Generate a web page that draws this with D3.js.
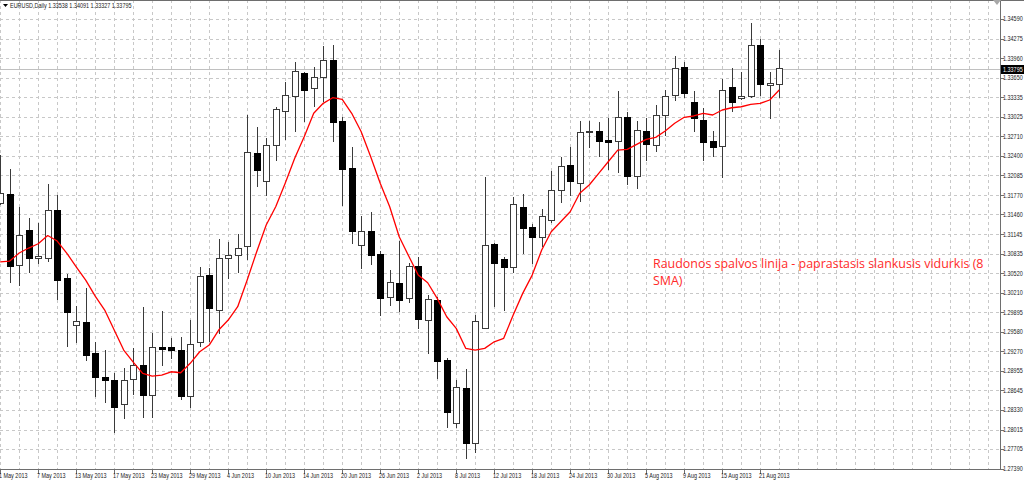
<!DOCTYPE html>
<html>
<head>
<meta charset="utf-8">
<script src="https://cdn.jsdelivr.net/npm/d3@7"></script>
<style>
  html, body { margin: 0; padding: 0; background: #fff; overflow: hidden; }
  svg { display: block; }
</style>
</head>
<body>
<svg id="chart" width="1024" height="481"></svg>
<script>
(function() {

  'use strict';

  var symbol = 'EURUSD,Daily';

  var dates = [
    '2013-05-01', '2013-05-02', '2013-05-03', '2013-05-06', '2013-05-07', '2013-05-08', '2013-05-09', '2013-05-10',
    '2013-05-13', '2013-05-14', '2013-05-15', '2013-05-16', '2013-05-17', '2013-05-20', '2013-05-21', '2013-05-22',
    '2013-05-23', '2013-05-24', '2013-05-27', '2013-05-28', '2013-05-29', '2013-05-30', '2013-05-31',
    '2013-06-03', '2013-06-04', '2013-06-05', '2013-06-06', '2013-06-07', '2013-06-10', '2013-06-11', '2013-06-12',
    '2013-06-13', '2013-06-14', '2013-06-17', '2013-06-18', '2013-06-19', '2013-06-20', '2013-06-21', '2013-06-24',
    '2013-06-25', '2013-06-26', '2013-06-27', '2013-06-28',
    '2013-07-01', '2013-07-02', '2013-07-03', '2013-07-04', '2013-07-05', '2013-07-08', '2013-07-09', '2013-07-10',
    '2013-07-11', '2013-07-12', '2013-07-15', '2013-07-16', '2013-07-17', '2013-07-18', '2013-07-19', '2013-07-22',
    '2013-07-23', '2013-07-24', '2013-07-25', '2013-07-26', '2013-07-29', '2013-07-30', '2013-07-31',
    '2013-08-01', '2013-08-02', '2013-08-05', '2013-08-06', '2013-08-07', '2013-08-08', '2013-08-09', '2013-08-12',
    '2013-08-13', '2013-08-14', '2013-08-15', '2013-08-16', '2013-08-19', '2013-08-20', '2013-08-21', '2013-08-22',
    '2013-08-23'
  ];

  var open = [
    1.31643, 1.31783, 1.30646, 1.31206, 1.30758, 1.30758, 1.31531, 1.30431, 1.29685, 1.29727,
    1.29237, 1.28857, 1.28798, 1.28420, 1.28820, 1.29049, 1.28558, 1.29326, 1.29326, 1.29278,
    1.28553, 1.29406, 1.30486, 1.29919, 1.30763, 1.30806, 1.30944, 1.32439, 1.31996, 1.32561,
    1.33117, 1.33357, 1.33725, 1.33480, 1.33656, 1.33922, 1.32945, 1.32204, 1.30966, 1.31195,
    1.30822, 1.30127, 1.30362, 1.30117, 1.30623, 1.29770, 1.30090, 1.29129, 1.28116, 1.28670,
    1.27795, 1.29631, 1.30982, 1.30747, 1.30619, 1.31575, 1.31251, 1.31088, 1.31360, 1.31852,
    1.32241, 1.31959, 1.32769, 1.32792, 1.32641, 1.32631, 1.33009, 1.32065, 1.32785, 1.32572,
    1.33041, 1.33368, 1.33810, 1.33250, 1.32972, 1.32636, 1.32545, 1.33490, 1.33320, 1.33357,
    1.34173, 1.33533, 1.33538
  ];

  var high = [
    1.32412, 1.32183, 1.31584, 1.31408, 1.31318, 1.31943, 1.31772, 1.30502, 1.29994, 1.30287,
    1.29418, 1.29289, 1.28916, 1.29006, 1.29326, 1.29983, 1.29557, 1.29919, 1.29477, 1.29493,
    1.29770, 1.30614, 1.30598, 1.31062, 1.31014, 1.31147, 1.33053, 1.32856, 1.32679, 1.33176,
    1.33586, 1.33896, 1.33746, 1.33816, 1.34162, 1.34173, 1.33016, 1.32535, 1.31435, 1.31504,
    1.30880, 1.30571, 1.31035, 1.30678, 1.30784, 1.30170, 1.30143, 1.29157, 1.28809, 1.28980,
    1.29845, 1.32055, 1.31008, 1.30784, 1.31744, 1.31783, 1.31302, 1.31543, 1.32161, 1.32385,
    1.32545, 1.32956, 1.32961, 1.32945, 1.33000, 1.33442, 1.33105, 1.32956, 1.33000, 1.33213,
    1.33453, 1.33997, 1.33906, 1.33437, 1.33160, 1.32801, 1.33629, 1.33800, 1.33736, 1.34531,
    1.34270, 1.33736, 1.34091
  ];

  var low = [
    1.31611, 1.30358, 1.30319, 1.30527, 1.30667, 1.30703, 1.30090, 1.29342, 1.29397, 1.29118,
    1.28542, 1.28446, 1.27956, 1.28180, 1.28569, 1.28201, 1.28201, 1.29033, 1.29141, 1.28489,
    1.28356, 1.29342, 1.29422, 1.29546, 1.30422, 1.30527, 1.30731, 1.31904, 1.31760, 1.32321,
    1.32652, 1.32785, 1.32945, 1.33185, 1.33266, 1.32625, 1.31600, 1.30982, 1.30591, 1.30646,
    1.29839, 1.29994, 1.29903, 1.30047, 1.29621, 1.29221, 1.28825, 1.28045, 1.28036, 1.27539,
    1.27635, 1.29621, 1.29983, 1.29919, 1.30518, 1.30827, 1.30667, 1.30944, 1.31318, 1.31648,
    1.31756, 1.31664, 1.32529, 1.32385, 1.32172, 1.32129, 1.31932, 1.31863, 1.32316, 1.32465,
    1.32721, 1.33277, 1.33330, 1.32776, 1.32316, 1.32385, 1.32039, 1.33105, 1.33293, 1.33330,
    1.33357, 1.32984, 1.33327
  ];

  var close = [
    1.31804, 1.30635, 1.31126, 1.30763, 1.30784, 1.31527, 1.30399, 1.29887, 1.29749, 1.29205,
    1.28857, 1.28804, 1.28366, 1.28809, 1.29045, 1.28569, 1.29326, 1.29301, 1.29278, 1.28542,
    1.29386, 1.30463, 1.29951, 1.30758, 1.30806, 1.30918, 1.32449, 1.32161, 1.32561, 1.33144,
    1.33368, 1.33752, 1.33442, 1.33656, 1.33928, 1.32940, 1.32188, 1.31195, 1.31195, 1.30806,
    1.30111, 1.30374, 1.30079, 1.30635, 1.29781, 1.30101, 1.29113, 1.28292, 1.28692, 1.27795,
    1.29749, 1.30966, 1.30671, 1.30619, 1.31616, 1.31243, 1.31088, 1.31435, 1.31840, 1.32225,
    1.31996, 1.32776, 1.32785, 1.32625, 1.32620, 1.33016, 1.32076, 1.32812, 1.32583, 1.33048,
    1.33352, 1.33800, 1.33400, 1.32989, 1.32620, 1.32535, 1.33448, 1.33256, 1.33357, 1.34169,
    1.33549, 1.33565, 1.33795
  ];

  // 8 period simple moving average, as drawn on the chart
  var sma8 = [
    1.30703, 1.30715, 1.30843, 1.30923, 1.30992, 1.31123, 1.31035, 1.30843, 1.30623, 1.30410,
    1.30154, 1.29930, 1.29610, 1.29289, 1.29097, 1.28916, 1.28873, 1.28889, 1.28942, 1.28926,
    1.29077, 1.29262, 1.29370, 1.29610, 1.29770, 1.29983, 1.30410, 1.30864, 1.31291, 1.31584,
    1.31959, 1.32359, 1.32705, 1.33080, 1.33240, 1.33330, 1.33304, 1.33080, 1.32785, 1.32385,
    1.31959, 1.31584, 1.31104, 1.30795, 1.30490, 1.30367, 1.30117, 1.29823, 1.29637, 1.29317,
    1.29289, 1.29317, 1.29422, 1.29477, 1.29850, 1.30197, 1.30490, 1.30891, 1.31184, 1.31344,
    1.31504, 1.31799, 1.31932, 1.32119, 1.32305, 1.32492, 1.32503, 1.32583, 1.32663, 1.32695,
    1.32796, 1.32920, 1.33016, 1.33037, 1.33080, 1.33053, 1.33133, 1.33169, 1.33185, 1.33224,
    1.33240, 1.33293, 1.33453
  ];

  var priceTicks = [
    1.27390, 1.27705, 1.28015, 1.28330, 1.28645, 1.28955, 1.29270, 1.29580, 1.29895, 1.30210,
    1.30520, 1.30835, 1.31145, 1.31460, 1.31770, 1.32085, 1.32400, 1.32710, 1.33025, 1.33335,
    1.33650, 1.33960, 1.34275, 1.34590
  ];

  var note = [
    'Raudonos spalvos linija - paprastasis slankusis vidurkis (8',
    'SMA)'
  ];

  var PLOT_RIGHT = 1000;
  var PLOT_BOTTOM = 469.5;
  var LABEL_EVERY = 4;
  var GRID_EVERY = 2;
  var FONT = '"Liberation Sans", Arial, sans-serif';
  var FONT_SQUEEZE = 0.78;
  var NOTE_X = 653;
  var NOTE_WIDTH = 331;

  var svg = d3.select('#chart');
  var last = close.length - 1;

  var x = d3.scaleLinear()
    .domain([0, 1])
    .range([0.2, 9.7]);

  var y = d3.scaleLinear()
    .domain([1.27390, 1.34590])
    .range([468.7, 19]);

  var fmtDate = d3.utcFormat('%-d %b %Y');
  var parseDate = d3.utcParse('%Y-%m-%d');

  var smallText = function(selection) {
    selection
      .attr('font-family', FONT)
      .attr('font-size', 7)
      .attr('fill', '#1a1a1a');
  };

  // grid
  var grid = svg.append('g')
    .attr('class', 'grid')
    .attr('stroke', '#c8c8c8')
    .attr('stroke-width', 1)
    .attr('stroke-dasharray', '3,3')
    .attr('shape-rendering', 'crispEdges');

  grid.selectAll('line.h')
    .data(priceTicks)
    .enter()
    .append('line')
    .attr('class', 'h')
    .attr('x1', 0)
    .attr('x2', PLOT_RIGHT)
    .attr('y1', function(d) { return Math.round(y(d)) + 0.5; })
    .attr('y2', function(d) { return Math.round(y(d)) + 0.5; });

  var gridIdx = d3.range(0, 106, GRID_EVERY).filter(function(i) {
    return x(i) < PLOT_RIGHT - 2;
  });

  grid.selectAll('line.v')
    .data(gridIdx)
    .enter()
    .append('line')
    .attr('class', 'v')
    .attr('y1', 0)
    .attr('y2', PLOT_BOTTOM)
    .attr('x1', function(i) { return Math.round(x(i)) + 0.5; })
    .attr('x2', function(i) { return Math.round(x(i)) + 0.5; });

  // current price line
  svg.append('line')
    .attr('x1', 0)
    .attr('x2', PLOT_RIGHT)
    .attr('y1', Math.round(y(close[last])) + 0.5)
    .attr('y2', Math.round(y(close[last])) + 0.5)
    .attr('stroke', '#c0c0c0')
    .attr('shape-rendering', 'crispEdges');

  // candles
  var bars = d3.range(close.length);

  var candles = svg.append('g')
    .attr('class', 'candles')
    .attr('shape-rendering', 'crispEdges');

  var candle = candles.selectAll('g.candle')
    .data(bars)
    .enter()
    .append('g')
    .attr('class', 'candle');

  candle.append('line')
    .attr('x1', function(i) { return Math.round(x(i)) + 0.5; })
    .attr('x2', function(i) { return Math.round(x(i)) + 0.5; })
    .attr('y1', function(i) { return y(high[i]); })
    .attr('y2', function(i) { return y(low[i]); })
    .attr('stroke', '#3a3a3a');

  candle.append('rect')
    .attr('x', function(i) { return Math.round(x(i)) - 2.5; })
    .attr('width', 6)
    .attr('y', function(i) { return y(Math.max(open[i], close[i])); })
    .attr('height', function(i) {
      return Math.max(1, Math.abs(y(open[i]) - y(close[i])));
    })
    .attr('fill', function(i) { return close[i] >= open[i] ? '#fff' : '#000'; })
    .attr('stroke', function(i) { return close[i] >= open[i] ? '#3a3a3a' : '#000'; })
    .attr('stroke-width', 1);

  // moving average
  var line = d3.line()
    .x(function(d, i) { return x(i); })
    .y(function(d) { return y(d); });

  svg.append('path')
    .datum(sma8)
    .attr('d', line)
    .attr('fill', 'none')
    .attr('stroke', '#ff0000')
    .attr('stroke-width', 1.3)
    .attr('stroke-linejoin', 'round');

  // frame and axes
  var frame = svg.append('g')
    .attr('stroke', '#6e6e6e')
    .attr('shape-rendering', 'crispEdges');

  frame.append('line')
    .attr('x1', 0).attr('x2', 1024)
    .attr('y1', 0.5).attr('y2', 0.5);

  frame.append('line')
    .attr('x1', PLOT_RIGHT + 0.5).attr('x2', PLOT_RIGHT + 0.5)
    .attr('y1', 0).attr('y2', PLOT_BOTTOM);

  frame.append('line')
    .attr('x1', 0).attr('x2', PLOT_RIGHT + 1)
    .attr('y1', PLOT_BOTTOM).attr('y2', PLOT_BOTTOM);

  // price axis
  var yAxis = svg.append('g').attr('class', 'y-axis');

  yAxis.selectAll('line')
    .data(priceTicks)
    .enter()
    .append('line')
    .attr('x1', PLOT_RIGHT)
    .attr('x2', PLOT_RIGHT + 4)
    .attr('y1', function(d) { return Math.round(y(d)) + 0.5; })
    .attr('y2', function(d) { return Math.round(y(d)) + 0.5; })
    .attr('stroke', '#6e6e6e')
    .attr('shape-rendering', 'crispEdges');

  yAxis.selectAll('text')
    .data(priceTicks)
    .enter()
    .append('text')
    .call(smallText)
    .attr('dy', '0.35em')
    .attr('transform', function(d) {
      return 'translate(' + (PLOT_RIGHT + 3) + ',' + y(d) + ') scale(' + FONT_SQUEEZE + ',1)';
    })
    .text(function(d) { return d.toFixed(5); });

  // current price tag
  var tagY = y(close[last]);
  svg.append('rect')
    .attr('x', PLOT_RIGHT + 1)
    .attr('y', Math.round(tagY) - 4)
    .attr('width', 23)
    .attr('height', 9)
    .attr('fill', '#000');

  svg.append('text')
    .call(smallText)
    .attr('fill', '#fff')
    .attr('dy', '0.35em')
    .attr('transform', 'translate(' + (PLOT_RIGHT + 3) + ',' + (Math.round(tagY) + 0.5) + ') scale(' + FONT_SQUEEZE + ',1)')
    .text(close[last].toFixed(5));

  // time axis
  var labelIdx = bars.filter(function(i) { return i % LABEL_EVERY === 0; });
  var xAxis = svg.append('g').attr('class', 'x-axis');

  xAxis.selectAll('line')
    .data(labelIdx)
    .enter()
    .append('line')
    .attr('x1', function(i) { return Math.round(x(i)) + 0.5; })
    .attr('x2', function(i) { return Math.round(x(i)) + 0.5; })
    .attr('y1', PLOT_BOTTOM)
    .attr('y2', PLOT_BOTTOM + 4)
    .attr('stroke', '#6e6e6e')
    .attr('shape-rendering', 'crispEdges');

  xAxis.selectAll('text')
    .data(labelIdx)
    .enter()
    .append('text')
    .call(smallText)
    .attr('transform', function(i) {
      return 'translate(' + (Math.round(x(i)) - 1) + ',478) scale(' + FONT_SQUEEZE + ',1)';
    })
    .text(function(i) { return fmtDate(parseDate(dates[i])); });

  // header
  svg.append('path')
    .attr('d', 'M3,4 L8,4 L5.5,7 Z')
    .attr('fill', '#000');

  svg.append('text')
    .call(smallText)
    .attr('transform', 'translate(10,8) scale(' + FONT_SQUEEZE + ',1)')
    .text(symbol + '  ' + [open[last], high[last], low[last], close[last]].map(function(v) {
      return v.toFixed(5);
    }).join(' '));

  // chart shift marker
  svg.append('path')
    .attr('d', 'M993,0 L1001,0 L997,5 Z')
    .attr('fill', '#a8a8a8');

  // annotation, squeezed horizontally to the width seen on the chart
  var noteText = svg.append('g')
    .attr('class', 'note')
    .selectAll('text')
    .data(note)
    .enter()
    .append('text')
    .attr('x', 0)
    .attr('y', 0)
    .attr('font-family', '"Open Sans", sans-serif')
    .attr('font-size', 13.5)
    .attr('fill', '#ff2a2a')
    .text(function(d) { return d; });

  var natural = noteText.nodes()[0].getComputedTextLength();
  var squeeze = NOTE_WIDTH / natural;
  noteText.attr('transform', function(d, i) {
    return 'translate(' + NOTE_X + ',' + (268 + i * 17) + ') scale(' + squeeze + ',1)';
  });

})();
</script>
</body>
</html>
